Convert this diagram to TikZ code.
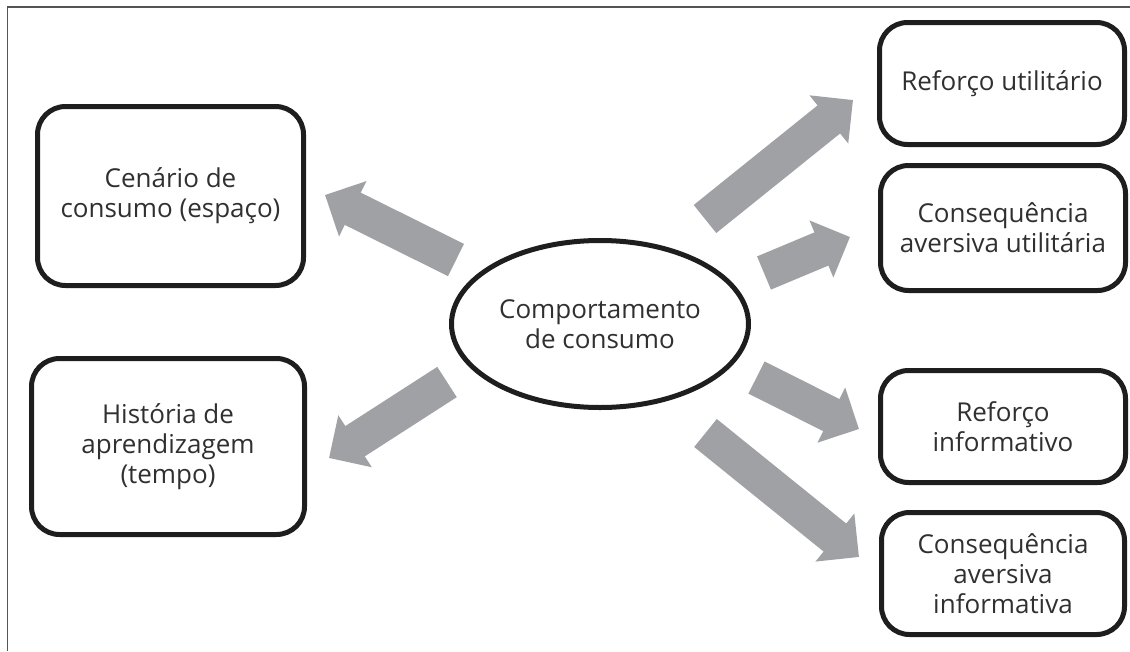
\documentclass[tikz,border=0pt]{standalone}
\usepackage{fontspec}
\setmainfont{Open Sans}
\usetikzlibrary{arrows.meta,shapes.geometric}
\definecolor{arrowgray}{HTML}{A0A1A5}
\definecolor{inkc}{HTML}{1E1E1E}
\definecolor{txtc}{HTML}{303030}
\definecolor{framec}{HTML}{555555}
\begin{document}
\begin{tikzpicture}[x=1pt,y=-1pt,
  txt/.style={align=center, font=\fontsize{26}{30}\selectfont, text=txtc, inner sep=0pt},
  box/.style={txt, draw=inkc, line width=5pt, rounded corners=28pt},
  oval/.style={txt, ellipse, draw=inkc, line width=5pt},
  bigarrow/.style={draw=arrowgray, line width=36pt, -{Triangle[length=31pt,width=60pt]}},
]
\useasboundingbox (0,0) rectangle (1130,651);
\draw[framec, line width=1.5pt] (1130,7) -- (7.5,7) -- (7.5,651);

\node[oval, minimum width=297pt, minimum height=167pt] (cc) at (600,324) {Comportamento\\de consumo};

\node[box, minimum width=266pt, minimum height=179pt] (cen) at (170.5,196) {Cenário de\\consumo (espaço)};
\node[box, minimum width=273pt, minimum height=176pt] (hist) at (168,446.5) {História de\\aprendizagem\\(tempo)};
\node[box, minimum width=245pt, minimum height=122pt] (ru) at (1002,83.5) {Reforço utilitário};
\node[box, minimum width=245pt, minimum height=125pt] (cau) at (1003,228) {Consequência\\aversiva utilitária};
\node[box, minimum width=245pt, minimum height=112pt] (ri) at (1003,426.5) {Reforço\\informativo};
\node[box, minimum width=243pt, minimum height=122pt] (cai) at (1003,573.5) {Consequência\\aversiva\\informativa};

\coordinate (t1) at (456,260);   \coordinate (p1) at (325,195);
\coordinate (t2) at (447,382);   \coordinate (p2) at (329,458);
\coordinate (t3) at (705,219);   \coordinate (p3) at (853,100);
\coordinate (t4) at (764,273);   \coordinate (p4) at (850,237);
\coordinate (t5) at (756.5,377.5); \coordinate (p5) at (859,429);
\coordinate (t6) at (705.5,433); \coordinate (p6) at (859,557);

\draw[bigarrow] (t1) -- (p1);
\draw[bigarrow] (t2) -- (p2);
\draw[bigarrow] (t3) -- (p3);
\draw[bigarrow] (t4) -- (p4);
\draw[bigarrow] (t5) -- (p5);
\draw[bigarrow] (t6) -- (p6);
\end{tikzpicture}
\end{document}
